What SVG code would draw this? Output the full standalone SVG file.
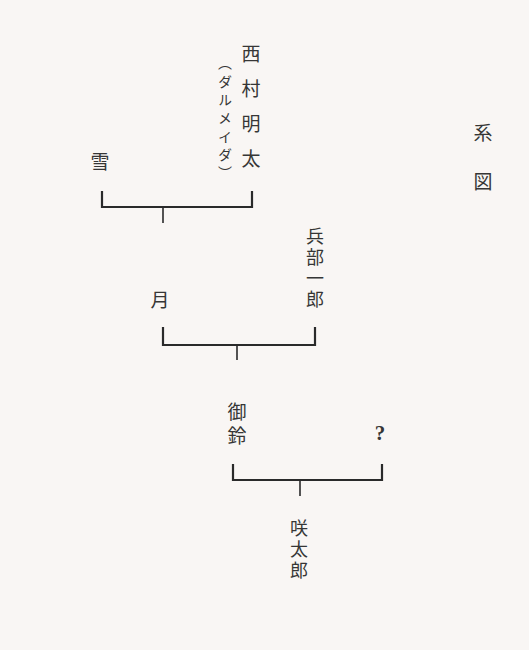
<svg xmlns="http://www.w3.org/2000/svg" width="529" height="650" viewBox="0 0 529 650">
<style>
.k{font-family:"Noto Sans CJK JP","Noto Sans CJK SC",sans-serif;font-size:19px;fill:#363636;text-anchor:middle;dominant-baseline:central;font-weight:400}
.v{font-family:"Noto Sans CJK JP","Noto Sans CJK SC",sans-serif;font-size:19px;fill:#363636;writing-mode:vertical-rl;text-anchor:start;dominant-baseline:central;font-weight:400}
.t{font-size:18px;letter-spacing:3px}
.s{font-size:14px;letter-spacing:4.3px}
.q{font-family:"Liberation Serif",serif;font-size:21px;font-weight:bold;fill:#363636;text-anchor:middle;dominant-baseline:central}
.ln{stroke:#2a2a2a;stroke-width:2.2;fill:none;stroke-linecap:square}
.tk{stroke:#2a2a2a;stroke-width:1.6;fill:none}
</style>
<rect width="529" height="650" fill="#f9f6f4"/>
<g id="title">
<text class="v" x="483" y="123.5" style="letter-spacing:30px">系図</text>
</g>
<g id="nishimura">
<text class="v" x="251" y="44.5" style="letter-spacing:16px">西村明太</text>
<text class="v s" x="225" y="56">（ダルメイダ）</text>
</g>
<g id="yuki">
<text class="k" x="100" y="160">雪</text>
</g>
<g id="hyobu">
<text class="v t" x="315" y="227">兵部一郎</text>
</g>
<g id="tsuki">
<text class="k" x="160" y="298">月</text>
</g>
<g id="misuzu">
<text class="v" x="237" y="402.5" style="letter-spacing:5px">御鈴</text>
</g>
<g id="unknown">
<text class="q" x="380" y="433">?</text>
</g>
<g id="sakutaro">
<text class="v t" x="299" y="519">咲太郎</text>
</g>
<g id="connectors">
<path class="ln" d="M102 192 V207 H252 V192"/>
<path class="tk" d="M163 207 V223"/>
<path class="ln" d="M163 328 V345 H315 V328"/>
<path class="tk" d="M237 345 V360"/>
<path class="ln" d="M233 465 V480 H382 V465"/>
<path class="tk" d="M300 480 V496"/>
</g>
</svg>
